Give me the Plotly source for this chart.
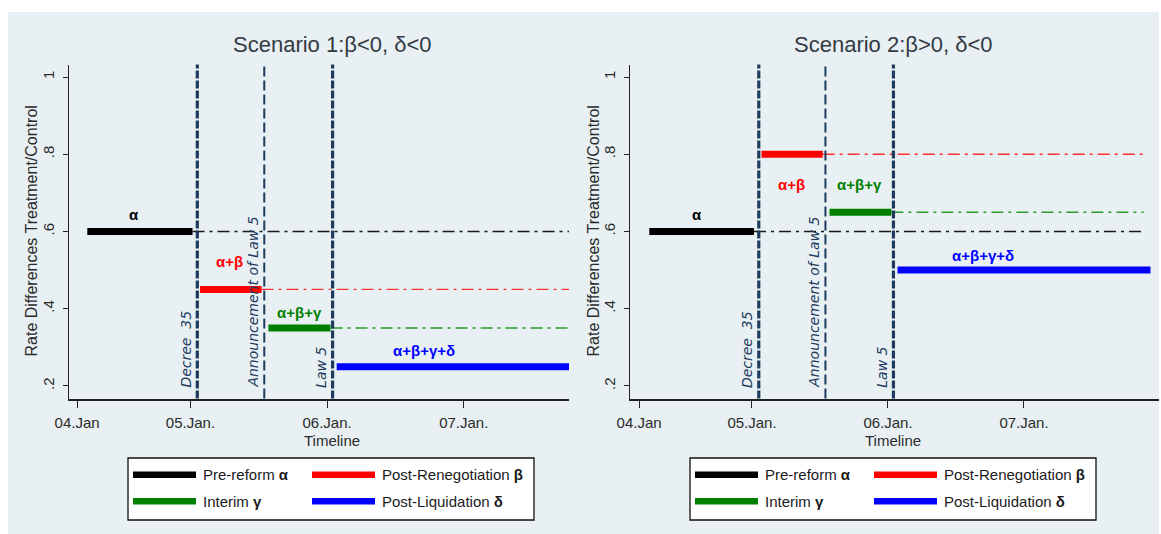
import plotly.graph_objects as go

W, H = 1161, 534

# ---------------- data ----------------
x_tick_vals = [2004.17, 2005, 2006, 2007]
x_tick_text = ["04.Jan", "05.Jan.", "06.Jan.", "07.Jan."]
y_tick_vals = [0.2, 0.4, 0.6, 0.8, 1.0]
y_tick_text = [".2", ".4", ".6", ".8", "1"]

event_names = ["Decree  35", "Announcement of Law 5", "Law 5"]
event_dates = [2005.05, 2005.54, 2006.04]

period_names = ["Pre-reform", "Post-Renegotiation", "Interim", "Post-Liquidation"]
period_symbols = ["α", "β", "γ", "δ"]
period_start = [2004.245, 2005.07, 2005.57, 2006.07]
period_end = [2005.015, 2005.52, 2006.025, 2007.93]
ref_line_end = 2007.88

scenario_titles = ["Scenario 1:β<0, δ<0", "Scenario 2:β>0, δ<0"]
s1_levels = [0.60, 0.45, 0.35, 0.25]
s2_levels = [0.60, 0.80, 0.65, 0.50]
level_labels = ["α", "α+β", "α+β+γ", "α+β+γ+δ"]
s1_label_x = [2004.59, 2005.285, 2005.80, 2006.71]
s1_label_y = [0.644, 0.523, 0.389, 0.292]
s2_label_x = [2004.593, 2005.287, 2005.794, 2006.70]
s2_label_y = [0.644, 0.722, 0.722, 0.538]

# ---------------- styles ----------------
period_colors = ["#000000", "#ff0000", "#008000", "#0000ff"]
ref_colors = ["#1a1a1a", "#ff3030", "#2a9a2a"]
event_color = "#1d3c5e"
panel_bg = "#e8f0f3"
grid_col = "#e6eef0"
txt_col = "#2b2b2b"
FONT = "Liberation Sans, Arial, sans-serif"


def px(x):
    return x / W


def py(y):
    return 1 - y / H


panels = [
    dict(xa="x", ya="y", dom=(69, 569), rng=(2004.111, 2007.77),
         levels=s1_levels, lx=s1_label_x, ly=s1_label_y, cx=332, ytx=31, leg=128),
    dict(xa="x2", ya="y2", dom=(630, 1158.5), rng=(2004.103, 2007.989),
         levels=s2_levels, lx=s2_label_x, ly=s2_label_y, cx=893, ytx=593, leg=690),
]

fig = go.Figure()
shapes = []
annotations = []

# gray background panel
shapes.append(dict(type="rect", xref="paper", yref="paper", x0=px(8), x1=px(1159),
                   y0=0, y1=py(12), fillcolor=panel_bg, line=dict(width=0), layer="below"))

y_dom = [py(398.5), py(64.5)]
y_rng = [0.1675, 1.0325]

for k, p in enumerate(panels):
    xa, ya = p["xa"], p["ya"]
    # reference dash-dot lines
    for i in range(3):
        fig.add_trace(go.Scatter(x=[period_end[i], ref_line_end], y=[p["levels"][i]] * 2,
                                 mode="lines", xaxis=xa, yaxis=ya, showlegend=False,
                                 hoverinfo="skip",
                                 line=dict(color=ref_colors[i], width=1.4, dash="12px,5px,3px,5px")))
    # period segments
    for i in range(4):
        fig.add_trace(go.Scatter(x=[period_start[i], period_end[i]], y=[p["levels"][i]] * 2,
                                 mode="lines", xaxis=xa, yaxis=ya, showlegend=False,
                                 name=period_names[i],
                                 line=dict(color=period_colors[i], width=7)))
        annotations.append(dict(x=p["lx"][i], y=p["ly"][i], xref=xa, yref=ya,
                                xanchor="center", yanchor="middle",
                                text="<b>" + level_labels[i] + "</b>", showarrow=False,
                                font=dict(family=FONT, size=15, color=period_colors[i])))
    # event lines
    for j in range(3):
        thick = j != 1
        shapes.append(dict(type="line", xref=xa, yref=ya + " domain",
                           x0=event_dates[j], x1=event_dates[j], y0=0, y1=1,
                           line=dict(color=event_color, width=3.2 if thick else 2,
                                     dash="8px,2px" if thick else "10px,4px")))
        annotations.append(dict(x=event_dates[j], y=0.19, xref=xa, yref=ya,
                                xanchor="center", yanchor="bottom", xshift=-11,
                                text="<i>" + event_names[j] + "</i>", textangle=-90,
                                showarrow=False,
                                font=dict(family="DejaVu Sans, sans-serif", size=14, color=event_color)))
    # title
    annotations.append(dict(x=px(p["cx"]), y=py(45), xref="paper", yref="paper",
                            xanchor="center", yanchor="middle",
                            text=scenario_titles[k], showarrow=False,
                            font=dict(family=FONT, size=22, color="#333a44")))
    # x title
    annotations.append(dict(x=px(p["cx"]), y=py(440), xref="paper", yref="paper",
                            xanchor="center", yanchor="middle",
                            text="Timeline", showarrow=False,
                            font=dict(family=FONT, size=15, color=txt_col)))
    # y title
    annotations.append(dict(x=px(p["ytx"]), y=py(231.5), xref="paper", yref="paper",
                            xanchor="center", yanchor="middle",
                            text="Rate Differences Treatment/Control", showarrow=False,
                            textangle=-90,
                            font=dict(family=FONT, size=16, color=txt_col)))
    # legend box (manual, two columns)
    L = p["leg"]
    shapes.append(dict(type="rect", xref="paper", yref="paper", x0=px(L), x1=px(L + 406),
                       y0=py(520), y1=py(458), fillcolor="white",
                       line=dict(color="#111111", width=1.3)))
    col_off = [0, 179]
    row_y = [474.7, 501.3]
    for n in range(4):
        r, c = divmod(n, 2)
        x0 = L + 5 + col_off[c]
        shapes.append(dict(type="line", xref="paper", yref="paper",
                           x0=px(x0), x1=px(x0 + 63), y0=py(row_y[r]), y1=py(row_y[r]),
                           line=dict(color=period_colors[n], width=6.5)))
        annotations.append(dict(x=px(x0 + 68), y=py(row_y[r]), xref="paper", yref="paper",
                                xanchor="left", yanchor="middle", showarrow=False,
                                text=period_names[n] + " <b>" + period_symbols[n] + "</b>",
                                font=dict(family=FONT, size=15, color="#1a1a1a")))

    axis_common = dict(showline=True, linecolor="#222222", ticks="outside",
                       tickcolor="#222222", automargin=False,
                       tickfont=dict(family=FONT, size=15, color=txt_col))
    fig.layout["xaxis" if k == 0 else "xaxis2"] = dict(
        domain=[px(p["dom"][0]), px(p["dom"][1])], range=list(p["rng"]), anchor=ya,
        tickvals=x_tick_vals, ticktext=x_tick_text, showgrid=False, zeroline=False,
        ticklen=7, linewidth=2, ticklabelstandoff=2, **axis_common)
    fig.layout["yaxis" if k == 0 else "yaxis2"] = dict(
        domain=y_dom, range=y_rng, anchor=xa, tickvals=y_tick_vals, ticktext=y_tick_text,
        tickangle=-90, showgrid=True, gridcolor=grid_col, gridwidth=2, zeroline=False,
        ticklen=5, linewidth=1.3, ticklabelstandoff=3, **axis_common)

fig.update_layout(width=W, height=H, margin=dict(l=0, r=0, t=0, b=0, autoexpand=False),
                  paper_bgcolor="white", plot_bgcolor="white",
                  shapes=shapes, annotations=annotations, showlegend=False,
                  font=dict(family=FONT))

fig.write_html("out.html")
